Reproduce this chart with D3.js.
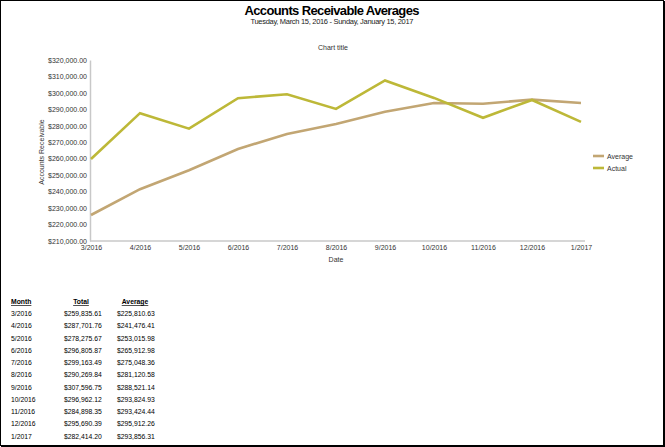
<!DOCTYPE html>
<html><head><meta charset="utf-8">
<script src="https://cdn.jsdelivr.net/npm/d3@7"></script>
<style>body{margin:0;background:#fff}svg{display:block;font-family:"Liberation Sans",Arial,sans-serif}</style>
</head><body><svg id="c" width="665" height="447"></svg>
<script>
const months = ["3/2016","4/2016","5/2016","6/2016","7/2016","8/2016","9/2016","10/2016","11/2016","12/2016","1/2017"];
const actual = [259835.61,287701.76,278275.67,296805.87,299163.49,290269.84,307596.75,296962.12,284898.35,295690.39,282414.20];
const average = [225810.63,241476.41,253015.98,265912.98,275048.36,281120.58,288521.14,293824.93,293424.44,295912.26,293856.31];
const yTicks = [210000,220000,230000,240000,250000,260000,270000,280000,290000,300000,310000,320000];
const seriesNames = ["Average","Actual"];
const colors = {Average:"#c2a673", Actual:"#bdb838"};

const svg = d3.select("#c");
svg.append("rect").attr("x",0.5).attr("y",0.5).attr("width",663).attr("height",445).attr("fill","#fff").attr("stroke","#000").attr("stroke-width",1);
svg.append("line").attr("x1",664).attr("x2",664).attr("y1",1).attr("y2",447).attr("stroke","#000").attr("stroke-width",2);
svg.append("line").attr("x1",1).attr("x2",665).attr("y1",446).attr("y2",446).attr("stroke","#000").attr("stroke-width",2);

svg.append("text").attr("x",332).attr("y",15).attr("text-anchor","middle").attr("font-size",13).attr("font-weight","bold").attr("textLength",175).text("Accounts Receivable Averages");
svg.append("text").attr("x",332).attr("y",23.5).attr("text-anchor","middle").attr("font-size",7.5).attr("fill","#222").attr("textLength",163).text("Tuesday, March 15, 2016 - Sunday, January 15, 2017");
svg.append("text").attr("x",333).attr("y",50).attr("text-anchor","middle").attr("font-size",7).attr("fill","#333").text("Chart title");

const x = d3.scalePoint().domain(months).range([91,581]);
const y = d3.scaleLinear().domain([210000,320000]).range([241,60]);
const fmt = d3.format("$,.2f");

const gy = svg.append("g").attr("transform","translate(90,0)")
  .call(d3.axisLeft(y).tickValues(yTicks).tickFormat(fmt).tickSize(0).tickPadding(3));
gy.select(".domain").attr("stroke","#c8c8c8").attr("stroke-width",1.5);
gy.selectAll("text").attr("font-size",7).attr("fill","#333").attr("font-family","Liberation Sans, Arial");

const gx = svg.append("g").attr("transform","translate(0,241)")
  .call(d3.axisBottom(x).tickSize(0).tickPadding(4));
gx.select(".domain").attr("stroke","#c8c8c8").attr("stroke-width",1.5).attr("d","M90,0H585");
gx.selectAll("text").attr("font-size",7).attr("fill","#333").attr("font-family","Liberation Sans, Arial");

svg.append("text").attr("x",336).attr("y",262).attr("text-anchor","middle").attr("font-size",7).attr("fill","#333").text("Date");
svg.append("text").attr("transform","translate(44,152) rotate(-90)").attr("text-anchor","middle").attr("font-size",7).attr("fill","#333").text("Accounts Receivable");

const line = d3.line().x((d,i)=>x(months[i])).y(d=>y(d));
const data = {Average:average, Actual:actual};
seriesNames.forEach(n=>{
  svg.append("path").datum(data[n]).attr("d",line).attr("fill","none").attr("stroke",colors[n]).attr("stroke-width",2.6).attr("stroke-linejoin","miter");
});

const lg = svg.append("g");
seriesNames.forEach((n,i)=>{
  const yy = 156 + i*12;
  lg.append("line").attr("x1",593).attr("x2",604).attr("y1",yy).attr("y2",yy).attr("stroke",colors[n]).attr("stroke-width",2.6);
  lg.append("text").attr("x",607).attr("y",yy+2.5).attr("font-size",7).attr("fill","#333").text(n);
});

// table
const tbl = svg.append("g").attr("font-size",6.8).attr("fill","#000");
const hdrY = 304;
[["Month",11,"start"],["Total",81,"middle"],["Average",135,"middle"]].forEach(([t,xx,a])=>{
  tbl.append("text").attr("x",xx).attr("y",hdrY).attr("text-anchor",a).attr("font-weight","bold").attr("text-decoration","underline").text(t);
});
months.forEach((m,i)=>{
  const yy = 316 + i*12.25;
  tbl.append("text").attr("x",11).attr("y",yy).text(m);
  tbl.append("text").attr("x",64).attr("y",yy).text(fmt(actual[i]));
  tbl.append("text").attr("x",117).attr("y",yy).text(fmt(average[i]));
});
</script></body></html>
